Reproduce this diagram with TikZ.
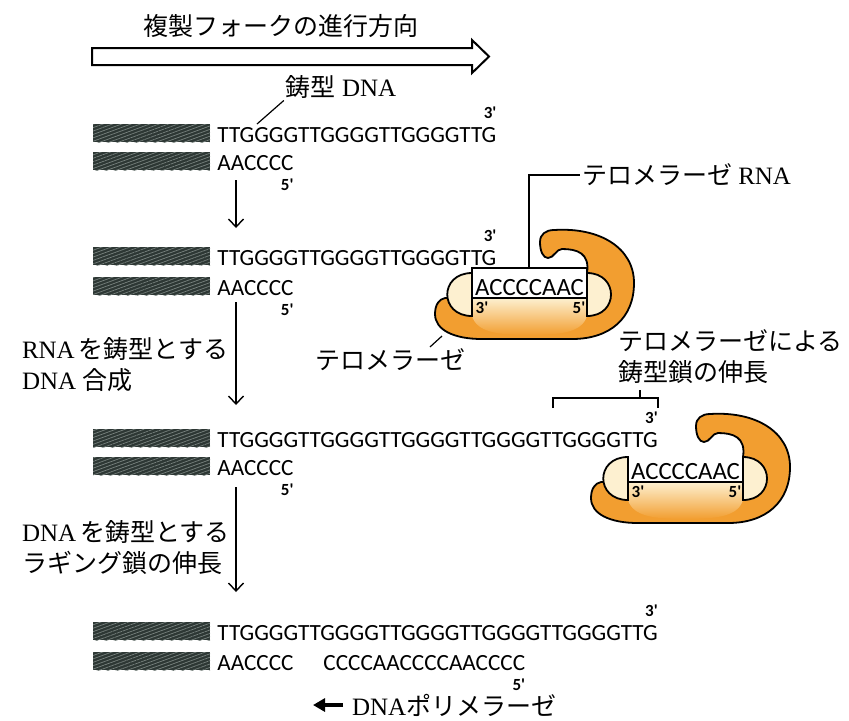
\documentclass[tikz,border=0pt]{standalone}
\usepackage{fontspec}
\setmainfont{Liberation Serif}
\newfontfamily\jp{Noto Sans CJK JP}
\newfontfamily\seqf{Carlito}
\usetikzlibrary{arrows.meta,patterns.meta,positioning}
\definecolor{tband}{RGB}{242,158,48}
\definecolor{tcream}{RGB}{253,240,208}
\definecolor{hatch}{RGB}{45,55,52}
\definecolor{hatchln}{RGB}{120,130,126}
\tikzset{
  lab/.style={font=\fontsize{12.5}{15.5}\selectfont, inner sep=0pt, outer sep=1pt},
  seq/.style={font=\seqf\fontsize{11.6}{14}\selectfont, inner sep=0pt, anchor=base west},
  prime/.style={font=\seqf\bfseries\fontsize{8.5}{10}\selectfont, inner sep=0pt},
  strand/.style={fill=hatch, postaction={pattern={Lines[angle=20,distance=1.6pt,line width=0.35pt]}, pattern color=hatchln}},
  down/.style={line width=0.7pt, -{Straight Barb[length=4pt,width=7.5pt]}},
  telomerase/.pic={
    \filldraw[fill=tband, line width=0.9pt] (68,-56) .. controls (68,-64) and (74,-68) .. (82,-68)
      .. controls (128,-71) and (162,-50) .. (162,-15) .. controls (162,20) and (138,41) .. (100,41) -- (10,41)
      .. controls (-18,41) and (-37,32) .. (-37,16) .. controls (-37,7) and (-33,1) .. (-27,0) -- (115,0) -- (115,-25)
      .. controls (118,-45) and (105,-49) .. (90,-49) .. controls (84,-49) and (82,-40) .. (76,-40)
      .. controls (71,-40) and (68,-47) .. (68,-56) -- cycle;
    \shade[top color=tcream, middle color=tcream!75!tband, bottom color=tband] (0,0) -- (115,0) -- (115,18)
      .. controls (110,34) and (90,37) .. (57,37) .. controls (25,37) and (5,34) .. (0,18) -- cycle;
    \filldraw[fill=tcream, line width=0.9pt] (0,-25) .. controls (-33,-25) and (-33,18) .. (0,18) -- cycle;
    \filldraw[fill=tcream, line width=0.9pt] (115,-25) .. controls (147,-25) and (147,18) .. (115,18) -- cycle;
    \draw[line width=0.9pt] (0,0) -- (115,0);
    \node[seq, font=\seqf\fontsize{12.4}{14}\selectfont, anchor=base] (-rna) at (57.5,-3) {ACCCCAAC};
    \node[prime] at (10,10) {3'};
    \node[prime] at (107,10) {5'};
  }
}
\begin{document}
\begin{tikzpicture}[x=0.5pt, y=-0.5pt]
  \useasboundingbox (0,0) rectangle (849,720);

  \draw[line width=1pt] (92,48) -- (472,48) -- (472,40) -- (489,56.5) -- (472,73) -- (472,65) -- (92,65) -- cycle;
  \node[lab] (fork) at (281,26) {\jp 複製フォークの進行方向};

  \foreach \t/\b in {142/170, 265/295, 447/475, 640/670} {
    \fill[strand] (93,\t-18) rectangle (210,\t);
    \fill[strand] (93,\b-18) rectangle (210,\b);
  }

  \node[seq] (top1) at (217,142) {TTGGGGTTGGGGTTGGGGTTG};
  \node[seq] (bot1) at (217,170) {AACCCC};
  \node[seq] (top2) at (217,265) {TTGGGGTTGGGGTTGGGGTTG};
  \node[seq] (bot2) at (217,295) {AACCCC};
  \node[seq] (top3) at (217,447) {TTGGGGTTGGGGTTGGGGTTGGGGTTGGGGTTG};
  \node[seq] (bot3) at (217,475) {AACCCC};
  \node[seq] (top4) at (217,640) {TTGGGGTTGGGGTTGGGGTTGGGGTTGGGGTTG};
  \node[seq] (bot4) at (217,670) {AACCCC};
  \node[seq] (lag4) at (323,670) {CCCCAACCCCAACCCC};

  \foreach \s in {top1,top2,top3,top4}
    \node[prime, anchor=south east] at ([yshift=4pt]\s.north east) {3'};
  \foreach \s in {bot1,bot2,bot3,lag4}
    \node[prime, anchor=north east] at ([yshift=-4pt]\s.south east) {5'};

  \node[lab] (tmpllab) at (341,87) {{\jp 鋳型} DNA};
  \coordinate (tmplpt) at (257,124);
  \draw[line width=0.6pt] (tmpllab.south west) -- (tmplpt);

  \coordinate (go1s) at (236,180); \coordinate (go1e) at (236,228);
  \coordinate (go2s) at (236,302); \coordinate (go2e) at (236,405);
  \coordinate (go3s) at (236,487); \coordinate (go3e) at (236,592);
  \draw[down] (go1s) -- (go1e);
  \draw[down] (go2s) -- (go2e);
  \draw[down] (go3s) -- (go3e);

  \node[lab, align=left, anchor=west] (rnasyn) at (20,364.5) {RNA\,{\jp を鋳型とする}\\DNA {\jp 合成}};
  \node[lab, align=left, anchor=west] (lagsyn) at (20,547.5) {DNA\,{\jp を鋳型とする}\\{\jp ラギング鎖の伸長}};

  \pic (t1) at (472,298) {telomerase};
  \draw[line width=0.9pt] (472,298) rectangle (587,268);
  \coordinate (rnatop) at (529,268);
  \node[lab, anchor=west] (rnalab) at (580,175) {{\jp テロメラーゼ} RNA};
  \draw[line width=0.6pt] (rnatop) |- (rnalab.west);

  \node[lab] (telab) at (390,360) {\jp テロメラーゼ};
  \coordinate (tept) at (442,336);
  \draw[line width=0.6pt] ([xshift=20pt]telab.north) -- (tept);

  \pic (t2) at (628,482) {telomerase};
  \node[lab, align=left, anchor=west] (extlab) at (616,357) {{\jp テロメラーゼによる}\\{\jp 鋳型鎖の伸長}};
  \draw[line width=0.6pt] (553,408) |- (658,398) -- (658,408);
  \draw[line width=0.6pt] (640,398) -- (640,390);

  \node[lab, anchor=west] (pol) at (350,705) {DNA{\jp ポリメラーゼ}};
  \coordinate (polend) at (313,705);
  \draw[line width=2pt, -{Triangle[length=6pt,width=6.5pt]}] ([xshift=-3.5pt]pol.west) -- (polend);
\end{tikzpicture}
\end{document}
